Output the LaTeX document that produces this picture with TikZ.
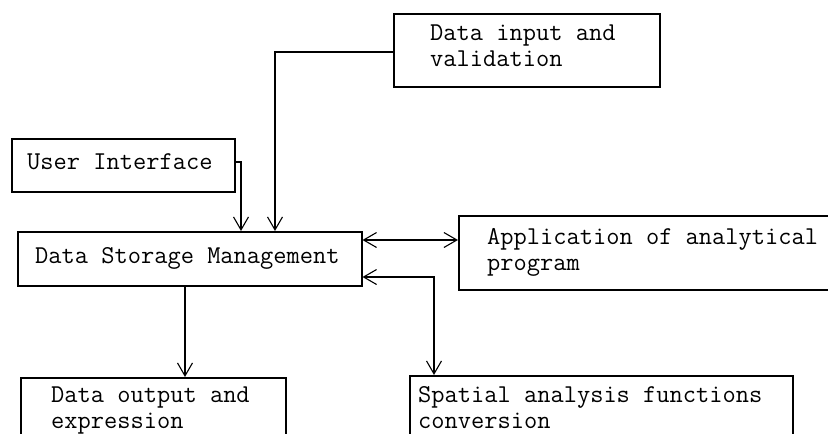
\documentclass[tikz,border=0pt]{standalone}
\usetikzlibrary{arrows.meta,calc}

\tikzset{
  >={Straight Barb[line width=1.1pt, length=13pt, width=15pt]},
  box/.style={draw=black, line width=1.5pt, rectangle, inner sep=0pt, anchor=north west},
  lbl/.style={font=\ttfamily\fontsize{25.7}{26}\selectfont, inner sep=0pt, align=left, anchor=base west},
  link/.style={draw=black, line width=1.5pt},
  arr/.style={link, ->},
  darr/.style={link, <->}
}

\begin{document}
\begin{tikzpicture}[x=1pt, y=-1pt]
  \useasboundingbox (0,0) rectangle (828,434);
  \clip (0,0) rectangle (828,434);

  % boxes
  \node[box, minimum width=266pt, minimum height=73pt] (inp) at (393,13) {};
  \node[box, minimum width=223pt, minimum height=53pt] (ui)  at (11,138) {};
  \node[box, minimum width=344pt, minimum height=54pt] (dsm) at (17,231) {};
  \node[box, minimum width=400pt, minimum height=74pt] (app) at (458,215) {};
  \node[box, minimum width=265pt, minimum height=100pt] (out) at (20,377) {};
  \node[box, minimum width=383pt, minimum height=100pt] (spa) at (409,375) {};

  % box texts, placed by the baseline of their last line
  \node[lbl] (tinp) at ([xshift=37pt, yshift=-53pt]inp.north west) {Data input and\\validation};
  \node[lbl] (tui)  at ([xshift=16pt, yshift=-31pt]ui.north west) {User Interface};
  \node[lbl] (tdsm) at ([xshift=18pt, yshift=-32pt]dsm.north west) {Data Storage Management};
  \node[lbl] (tapp) at ([xshift=29pt, yshift=-55pt]app.north west) {Application of analytical\\program};
  \node[lbl] (tout) at ([xshift=31pt, yshift=-51pt]out.north west) {Data output and\\expression};
  \node[lbl] (tspa) at ([xshift=9pt, yshift=-53pt]spa.north west) {Spatial analysis functions\\conversion};

  % routing guides
  \coordinate (c1) at (241,162);
  \coordinate (c2) at (275,52);
  \coordinate (h1) at (0,240);
  \coordinate (h2) at (0,277);
  \coordinate (c3) at (434,0);
  \coordinate (c4) at (185,0);

  % connectors
  \draw[arr]  (ui.east |- c1) -| (c1 |- dsm.north);
  \draw[arr]  (inp.west |- c2) -| (c2 |- dsm.north);
  \draw[darr] (dsm.east |- h1) -- (app.west |- h1);
  \draw[darr] (dsm.east |- h2) -| (c3 |- spa.north);
  \draw[arr]  (c4 |- dsm.south) -- (c4 |- out.north);
\end{tikzpicture}
\end{document}
